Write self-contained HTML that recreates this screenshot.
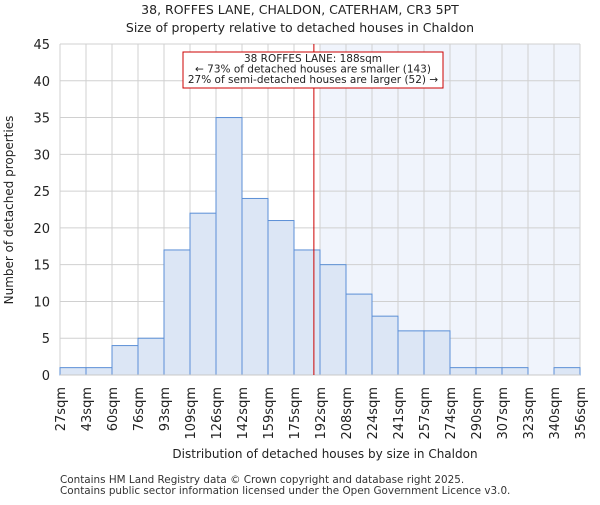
<!DOCTYPE html>
<html><head><meta charset="utf-8"><style>body{margin:0;background:#fff}svg{font-family:"DejaVu Sans","Liberation Sans",sans-serif}</style></head>
<body>
<svg id="c" width="600" height="500" xmlns="http://www.w3.org/2000/svg">
<text x="300" y="14" text-anchor="middle" font-size="12.5" fill="#222">38, ROFFES LANE, CHALDON, CATERHAM, CR3 5PT</text>
<text x="300" y="32" text-anchor="middle" font-size="12.5" fill="#222">Size of property relative to detached houses in Chaldon</text>
<g id="plot"></g>
<text x="325" y="458" text-anchor="middle" font-size="12" fill="#222">Distribution of detached houses by size in Chaldon</text>
<text transform="translate(13,210) rotate(-90)" text-anchor="middle" font-size="12" fill="#222">Number of detached properties</text>
<text x="60" y="483" font-size="10.4" fill="#333">Contains HM Land Registry data © Crown copyright and database right 2025.</text>
<text x="60" y="494" font-size="10.4" fill="#333">Contains public sector information licensed under the Open Government Licence v3.0.</text>
</svg>
<script>
const categories=["27sqm","43sqm","60sqm","76sqm","93sqm","109sqm","126sqm","142sqm","159sqm","175sqm","192sqm","208sqm","224sqm","241sqm","257sqm","274sqm","290sqm","307sqm","323sqm","340sqm","356sqm"];
const values=[1,1,4,5,17,22,35,24,21,17,15,11,8,6,6,1,1,1,0,1];
const yTicks=[0,5,10,15,20,25,30,35,40,45];
const markerBin=9+13/17;
const shadeBin=10;
const NS="http://www.w3.org/2000/svg";
const g=document.getElementById('plot');
const X0=60,X1=580,Y0=375,Y1=44,YMAX=45;
const bw=(X1-X0)/values.length;
const xs=i=>X0+i*bw;
const ys=v=>Y0-(v/YMAX)*(Y0-Y1);
function mk(t,a){const e=document.createElementNS(NS,t);for(const k in a)e.setAttribute(k,a[k]);g.appendChild(e);return e;}
let e;
e=mk('rect',{x:xs(shadeBin),y:Y1,width:X1-xs(shadeBin),height:Y0-Y1,fill:'#f0f4fc'});


yTicks.forEach(t=>{
 e=mk('line',{x1:X0,x2:X1,y1:ys(t),y2:ys(t),stroke:'#d0d0d0','stroke-width':1});
 
 
 e=mk('text',{x:X0-10,y:ys(t)+5,'text-anchor':'end','font-size':13,fill:'#222'});e.textContent=t;
 
 
});
categories.forEach((c,i)=>{
 e=mk('line',{x1:xs(i),x2:xs(i),y1:Y1,y2:Y0,stroke:'#d0d0d0','stroke-width':1});
 
 
 e=mk('text',{transform:`translate(${xs(i)+5},${Y0+12}) rotate(-90)`,'text-anchor':'end','font-size':13,fill:'#222'});e.textContent=c;
 
 
});
values.forEach((v,i)=>{
 if(v<=0)return;
 e=mk('rect',{x:xs(i),y:ys(v),width:bw,height:Y0-ys(v),fill:'#dce6f5',stroke:'#5b8fd6','stroke-width':1});
 
 
});
e=mk('line',{x1:X0,x2:X1,y1:Y0,y2:Y0,stroke:'#c8c8c8','stroke-width':1});


e=mk('line',{x1:xs(markerBin),x2:xs(markerBin),y1:Y1,y2:Y0,stroke:'#cc0000','stroke-width':1});


e=mk('rect',{x:183,y:52,width:260,height:36,fill:'#fff',stroke:'#cc0000','stroke-width':1});


["38 ROFFES LANE: 188sqm","← 73% of detached houses are smaller (143)","27% of semi-detached houses are larger (52) →"].forEach((s,k)=>{
 e=mk('text',{x:313,y:62+k*10.5,'text-anchor':'middle','font-size':10.5,fill:'#222'});e.textContent=s;
 
 
});
</script>
</body></html>
